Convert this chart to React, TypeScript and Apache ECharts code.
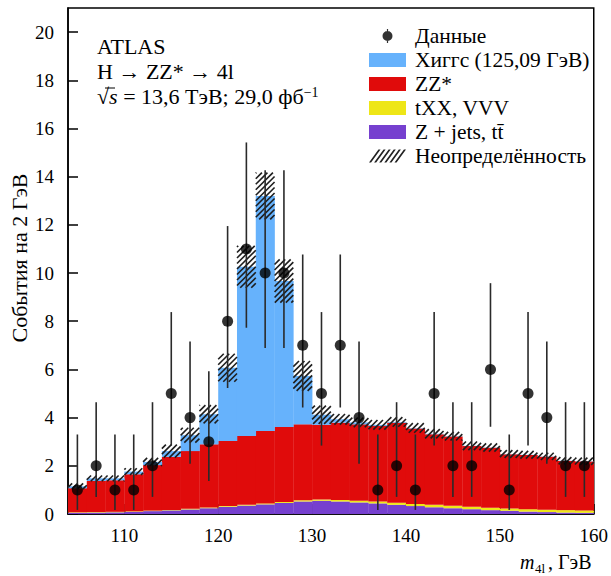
import React, { useEffect, useRef } from 'react';
import * as echarts from 'echarts';

// ---- data ----
const binCenters = [105, 107, 109, 111, 113, 115, 117, 119, 121, 123, 125, 127, 129, 131, 133, 135, 137, 139, 141, 143, 145, 147, 149, 151, 153, 155, 157, 159];
const binWidth = 2;

const observed = [1, 2, 1, 1, 2, 5, 4, 3, 8, 11, 10, 10, 7, 5, 7, 4, 1, 2, 1, 5, 2, 2, 6, 1, 5, 4, 2, 2];
const observedLow = [0.17, 0.71, 0.17, 0.17, 0.71, 2.84, 2.09, 1.37, 5.23, 7.73, 6.89, 6.89, 4.42, 2.84, 4.42, 2.09, 0.17, 0.71, 0.17, 2.84, 0.71, 0.71, 3.62, 0.17, 2.84, 2.09, 0.71, 0.71];
const observedHigh = [3.3, 4.64, 3.3, 3.3, 4.64, 8.38, 7.16, 5.92, 11.95, 15.42, 14.27, 14.27, 10.77, 8.38, 10.77, 7.16, 3.3, 4.64, 3.3, 8.38, 4.64, 4.64, 9.58, 3.3, 8.38, 7.16, 4.64, 4.64];

const zjetsTtbar = [0.05, 0.06, 0.07, 0.09, 0.12, 0.15, 0.19, 0.24, 0.3, 0.35, 0.4, 0.46, 0.52, 0.55, 0.52, 0.48, 0.44, 0.38, 0.33, 0.28, 0.24, 0.2, 0.16, 0.13, 0.1, 0.08, 0.06, 0.05];
const txxVvv = [0.02, 0.02, 0.02, 0.02, 0.02, 0.02, 0.03, 0.03, 0.03, 0.03, 0.04, 0.04, 0.05, 0.05, 0.06, 0.07, 0.08, 0.09, 0.09, 0.1, 0.1, 0.1, 0.1, 0.1, 0.1, 0.1, 0.1, 0.1];
const zzStar = [1.0, 1.29, 1.31, 1.54, 1.89, 2.2, 2.39, 2.62, 2.7, 2.86, 3.0, 3.11, 3.15, 3.1, 3.21, 3.17, 3.13, 3.32, 3.13, 2.93, 2.88, 2.52, 2.49, 2.25, 2.25, 2.2, 2.04, 2.03];
const higgs = [0.08, 0.11, 0.08, 0.11, 0.13, 0.24, 0.66, 1.25, 3.04, 7.02, 9.76, 6.06, 2.01, 0.42, 0.14, 0.08, 0.05, 0.03, 0.02, 0.02, 0.01, 0.01, 0.01, 0.01, 0.01, 0.01, 0.01, 0.01];
const uncertainty = [0.12, 0.12, 0.12, 0.14, 0.17, 0.27, 0.31, 0.38, 0.58, 0.87, 0.97, 0.9, 0.62, 0.38, 0.22, 0.2, 0.2, 0.2, 0.2, 0.19, 0.18, 0.18, 0.17, 0.16, 0.16, 0.15, 0.15, 0.15];

const xTicks = [110, 120, 130, 140, 150, 160];
const yTicks = [0, 2, 4, 6, 8, 10, 12, 14, 16, 18, 20];

const NAME_DATA = 'Данные';
const NAME_HIGGS = 'Хиггс (125,09 ГэВ)';
const NAME_ZZ = 'ZZ*';
const NAME_TXX = 'tXX, VVV';
const NAME_ZJ = 'Z + jets, tt\u0304';
const NAME_UNC = 'Неопределённость';

const FONT = '"Liberation Serif", "Times New Roman", "DejaVu Serif", serif';

function buildHatchIcon(): string {
  const parts: string[] = [];
  for (let i = 0; i < 6; i++) {
    const x = i * 5.4;
    parts.push(`M${x},14 L${x + 2.2},14 L${x + 12.2},0 L${x + 10},0 Z`);
  }
  return 'path://' + parts.join(' ');
}

const dataIcon = 'path://M0,7 A5,5 0 1,1 10,7 A5,5 0 1,1 0,7 Z M4.4,0 L5.6,0 L5.6,14 L4.4,14 Z';

export default function App() {
  const ref = useRef<HTMLDivElement>(null);

  useEffect(() => {
    document.body.style.margin = '0';
    if (!ref.current) return;
    const chart = echarts.init(ref.current, undefined, { renderer: 'svg' });

    // cumulative stacking
    const layers = [
      { name: NAME_ZJ, values: zjetsTtbar, color: '#7640cf' },
      { name: NAME_TXX, values: txxVvv, color: '#eee617' },
      { name: NAME_ZZ, values: zzStar, color: '#e00b0b' },
      { name: NAME_HIGGS, values: higgs, color: '#66b2fc' },
    ];
    const base = binCenters.map(() => 0);
    const layerSeries: any[] = layers.map((layer) => {
      const rows = binCenters.map((c, i) => {
        const b = base[i];
        const t = b + layer.values[i];
        base[i] = t;
        return [c - binWidth / 2, c + binWidth / 2, b, t];
      });
      const color = layer.color;
      return {
        type: 'custom',
        name: layer.name,
        itemStyle: { color },
        z: 2,
        encode: { x: [0, 1], y: [2, 3] },
        data: rows,
        renderItem: (params: any, api: any) => {
          const a = api.coord([api.value(0), api.value(3)]);
          const b = api.coord([api.value(1), api.value(2)]);
          return {
            type: 'rect',
            shape: { x: a[0], y: a[1], width: b[0] - a[0] + 0.3, height: b[1] - a[1] },
            style: { fill: color },
          };
        },
      };
    });
    const totals = base.slice();

    const hatchRows = binCenters.map((c, i) => [c - binWidth / 2, c + binWidth / 2, totals[i] - uncertainty[i], totals[i] + uncertainty[i]]);
    const hatchSeries = {
      type: 'custom',
      name: NAME_UNC,
      itemStyle: { color: '#222' },
      z: 3,
      encode: { x: [0, 1], y: [2, 3] },
      data: hatchRows,
      renderItem: (params: any, api: any) => {
        const a = api.coord([api.value(0), api.value(3)]);
        const b = api.coord([api.value(1), api.value(2)]);
        const x0 = a[0], x1 = b[0], yt = a[1], yb = b[1];
        const s = 5.5;
        const children: any[] = [];
        for (let c = Math.ceil((x0 + yt) / s) * s; c <= x1 + yb; c += s) {
          const xa = Math.max(x0, c - yb);
          const xb = Math.min(x1, c - yt);
          if (xb - xa > 0.4) {
            children.push({
              type: 'line',
              shape: { x1: xa, y1: c - xa, x2: xb, y2: c - xb },
              style: { stroke: '#1e1e1e', lineWidth: 1.6 },
            });
          }
        }
        return { type: 'group', children };
      },
    };

    const errRows = binCenters.map((c, i) => [c, observedLow[i], observedHigh[i]]);
    const errSeries = {
      type: 'custom',
      name: 'errors',
      z: 4,
      encode: { x: 0, y: [1, 2] },
      data: errRows,
      renderItem: (params: any, api: any) => {
        const a = api.coord([api.value(0), api.value(1)]);
        const b = api.coord([api.value(0), api.value(2)]);
        return {
          type: 'line',
          shape: { x1: a[0], y1: a[1], x2: b[0], y2: b[1] },
          style: { stroke: '#2a2a2a', lineWidth: 1.6 },
        };
      },
    };

    const scatterSeries = {
      type: 'scatter',
      name: NAME_DATA,
      z: 5,
      symbol: 'circle',
      symbolSize: 11,
      itemStyle: { color: '#000' },
      data: binCenters.map((c, i) => [c, observed[i]]),
    };

    const axisText = { fontFamily: FONT, fontSize: 19, color: '#000' };

    chart.setOption({
      animation: false,
      backgroundColor: '#fff',
      textStyle: { fontFamily: FONT },
      grid: {
        left: 68,
        right: 17,
        top: 8,
        bottom: 62,
        show: true,
        borderColor: '#000',
        borderWidth: 1.5,
        backgroundColor: 'transparent',
      },
      xAxis: {
        type: 'value',
        min: 104,
        max: 160,
        axisLine: { show: true, lineStyle: { color: '#000', width: 1.5 } },
        axisTick: { show: true, inside: true, length: 10, customValues: xTicks, lineStyle: { color: '#000', width: 1.5 } },
        axisLabel: { ...axisText, margin: 12, customValues: xTicks },
        splitLine: { show: false },
      },
      yAxis: {
        type: 'value',
        min: 0,
        max: 21,
        axisLine: { show: true, lineStyle: { color: '#000', width: 1.5 } },
        axisTick: { show: true, inside: true, length: 10, customValues: yTicks, lineStyle: { color: '#000', width: 1.5 } },
        axisLabel: { ...axisText, margin: 14, customValues: yTicks },
        splitLine: { show: false },
      },
      legend: {
        orient: 'vertical',
        left: 369,
        top: 25,
        padding: 0,
        itemWidth: 37,
        itemHeight: 14,
        itemGap: 2,
        selectedMode: false,
        textStyle: { fontFamily: FONT, fontSize: 21.5, lineHeight: 21, color: '#000', padding: [0, 0, 0, 4] },
        data: [
          { name: NAME_DATA, icon: dataIcon, itemStyle: { color: '#000' } },
          { name: NAME_HIGGS, icon: 'rect' },
          { name: NAME_ZZ, icon: 'rect' },
          { name: NAME_TXX, icon: 'rect' },
          { name: NAME_ZJ, icon: 'rect' },
          { name: NAME_UNC, icon: buildHatchIcon(), itemStyle: { color: '#222' } },
        ],
      },
      graphic: [
        { type: 'text', left: 97, top: 35, style: { text: 'ATLAS', font: `22px ${FONT}`, fill: '#000' } },
        { type: 'text', left: 97, top: 60, style: { text: 'H \u2192 ZZ* \u2192 4l', font: `22px ${FONT}`, fill: '#000' } },
        {
          type: 'text',
          left: 97,
          top: 85,
          style: {
            text: '{n|\u221A}{i|s}{n| = 13,6 ТэВ; 29,0 фб}{sup|\u22121}',
            fill: '#000',
            rich: {
              n: { fontFamily: FONT, fontSize: 22, fill: '#000' },
              i: { fontFamily: FONT, fontSize: 22, fontStyle: 'italic', fill: '#000' },
              sup: { fontFamily: FONT, fontSize: 14, fill: '#000', padding: [0, 0, 9, 0] },
            },
          },
        },
        { type: 'line', shape: { x1: 105, y1: 88, x2: 115, y2: 88 }, style: { stroke: '#000', lineWidth: 1 } },
        {
          type: 'text',
          x: 19,
          y: 258,
          rotation: Math.PI / 2,
          style: { text: 'События на 2 ГэВ', font: `22px ${FONT}`, fill: '#000', align: 'center', verticalAlign: 'middle' },
        },
        { type: 'text', x: 520, y: 562, style: { text: 'm', font: `italic 20px ${FONT}`, fill: '#000', verticalAlign: 'middle' } },
        { type: 'text', x: 535, y: 568, style: { text: '4l', font: `13px ${FONT}`, fill: '#000', verticalAlign: 'middle' } },
        { type: 'text', x: 548, y: 562, style: { text: ', ГэВ', font: `20px ${FONT}`, fill: '#000', verticalAlign: 'middle' } },
      ],
      series: [...layerSeries, hatchSeries, errSeries, scatterSeries],
    });

    return () => chart.dispose();
  }, []);

  return <div ref={ref} style={{ width: 611, height: 576 }} />;
}
